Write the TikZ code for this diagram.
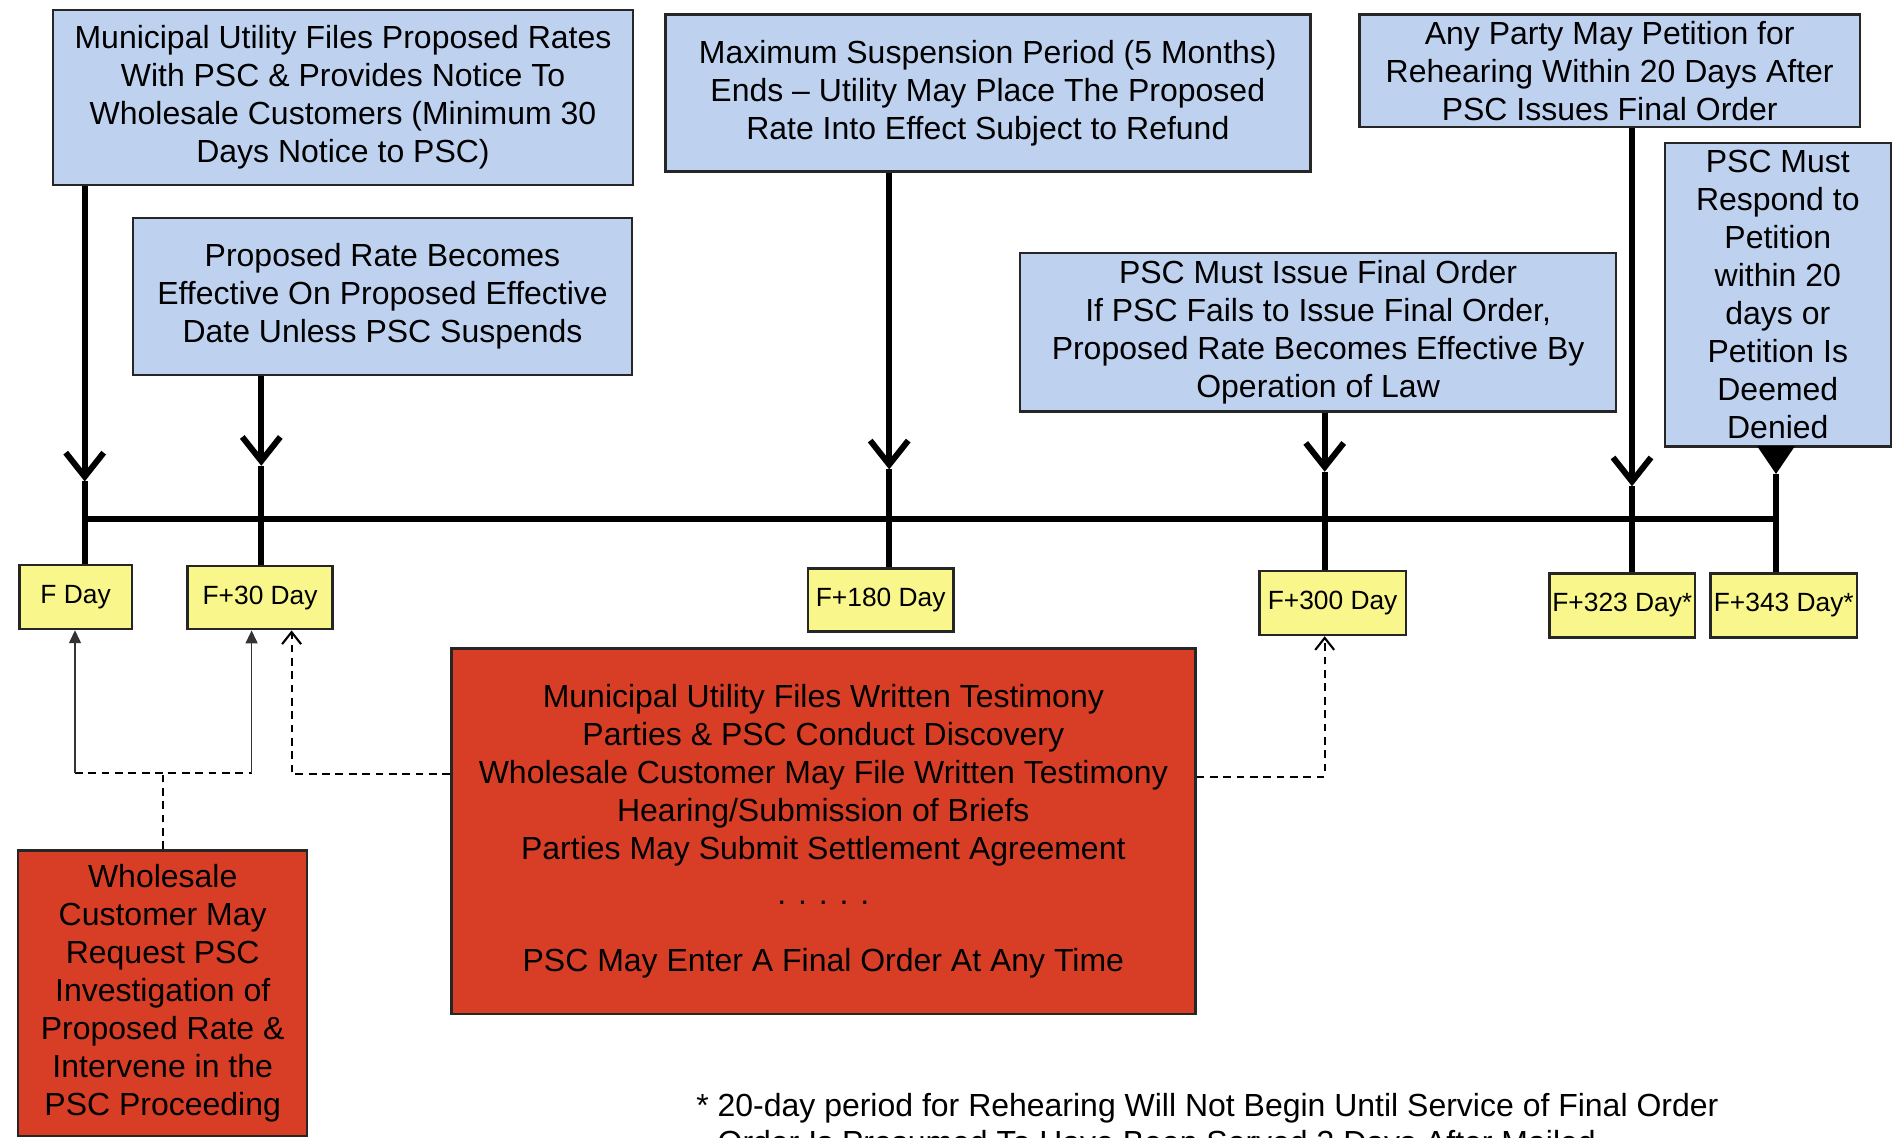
\documentclass[tikz,border=0pt]{standalone}
\usepackage{fontspec}
\setmainfont{Liberation Sans}
\usetikzlibrary{arrows.meta}
\definecolor{boxblue}{RGB}{190,210,240}
\definecolor{dayyellow}{RGB}{249,246,139}
\definecolor{stepred}{RGB}{216,62,38}
\begin{document}
\begin{tikzpicture}[
    every node/.style={font=\fontsize{9.1}{10.8}\selectfont, align=center, inner sep=0pt},
    event/.style={draw=black!85, line width=0.7pt, fill=boxblue},
    daybox/.style={draw=black!85, line width=0.7pt, fill=dayyellow, font=\fontsize{7.5}{9}\selectfont},
    redbox/.style={draw=black!85, line width=0.7pt, fill=stepred},
    tline/.style={line width=1.7pt},
    tarrow/.style={line width=1.7pt, -{Straight Barb[length=2.4mm,width=3.8mm]}},
    link/.style={line width=0.6pt, dash pattern=on 2.2pt off 1.6pt},
    feed/.style={line width=0.4pt, black!80}
  ]
    \useasboundingbox (0,0) rectangle (18.97,11.38);
    \clip (0,0) rectangle (18.97,11.38);

    % Events
    \node [event, minimum width=5.80cm, minimum height=1.75cm] (filing) at (3.43,10.405)
        {Municipal Utility Files Proposed Rates\\With PSC \& Provides Notice To\\Wholesale Customers (Minimum 30\\Days Notice to PSC)};
    \node [event, minimum width=4.99cm, minimum height=1.57cm] (effective) at (3.825,8.416)
        {Proposed Rate Becomes\\Effective On Proposed Effective\\Date Unless PSC Suspends};
    \node [event, minimum width=6.45cm, minimum height=1.57cm] (suspend) at (9.878,10.448)
        {Maximum Suspension Period (5 Months)\\Ends – Utility May Place The Proposed\\Rate Into Effect Subject to Refund};
    \node [event, minimum width=5.96cm, minimum height=1.585cm] (final) at (13.181,8.059)
        {PSC Must Issue Final Order\\If PSC Fails to Issue Final Order,\\Proposed Rate Becomes Effective By\\Operation of Law};
    \node [event, minimum width=5.00cm, minimum height=1.125cm] (rehear) at (16.097,10.672)
        {Any Party May Petition for\\Rehearing Within 20 Days After\\PSC Issues Final Order};
    \node [event, minimum width=2.26cm, minimum height=3.036cm] (respond) at (17.778,8.434)
        {PSC Must\\Respond to\\Petition\\within 20\\days or\\Petition Is\\Deemed\\Denied};

    % Days
    \node [daybox, minimum width=1.125cm, minimum height=0.64cm] (fday) at (0.756,5.41) {F Day};
    \node [daybox, minimum width=1.452cm, minimum height=0.63cm] (d30) at (2.601,5.403) {F+30 Day};
    \node [daybox, minimum width=1.452cm, minimum height=0.63cm] (d180) at (8.807,5.38) {F+180 Day};
    \node [daybox, minimum width=1.464cm, minimum height=0.64cm] (d300) at (13.326,5.35) {F+300 Day};
    \node [daybox, minimum width=1.452cm, minimum height=0.64cm] (d323) at (16.223,5.325) {F+323 Day*};
    \node [daybox, minimum width=1.463cm, minimum height=0.64cm] (d343) at (17.838,5.325) {F+343 Day*};

    % Proceeding
    \node [redbox, minimum width=7.44cm, minimum height=3.653cm] (hearing) at (8.233,3.069)
        {Municipal Utility Files Written Testimony\\Parties \& PSC Conduct Discovery\\Wholesale Customer May File Written Testimony\\Hearing/Submission of Briefs\\Parties May Submit Settlement Agreement\\[2pt]. . . . .\\[8.4pt]PSC May Enter A Final Order At Any Time};
    \node [redbox, minimum width=2.89cm, minimum height=2.855cm] (request) at (1.627,1.448)
        {Wholesale\\Customer May\\Request PSC\\Investigation of\\Proposed Rate \&\\Intervene in the\\PSC Proceeding};

    \node [anchor=base west, align=left] (note) at (6.956,-0.16)
        {* 20-day period for Rehearing Will Not Begin Until Service of Final Order\\\hphantom{* }Order Is Presumed To Have Been Served 3 Days After Mailed};

    % Timeline
    \coordinate (t0) at (0.847,6.19);
    \coordinate (t1) at (2.613,6.19);
    \coordinate (t2) at (8.892,6.19);
    \coordinate (t3) at (13.247,6.19);
    \coordinate (t4) at (16.320,6.19);
    \coordinate (t5) at (17.760,6.19);
    \coordinate (a0) at (0.847,6.565);
    \coordinate (a1) at (2.613,6.722);
    \coordinate (a2) at (8.892,6.686);
    \coordinate (a3) at (13.247,6.662);
    \coordinate (a4) at (16.320,6.517);
    \coordinate (a5) at (17.760,6.638);
    \draw [tline] (t0) -- (t5);

    \foreach \src/\t/\a/\dst in {filing/t0/a0/fday, effective/t1/a1/d30, suspend/t2/a2/d180, final/t3/a3/d300, rehear/t4/a4/d323}{
        \draw [tarrow] (\src.south -| \t) -- (\a);
        \draw [tline] (\a) -- (\dst.north -| \t);
    }
    \draw [line width=1.7pt, -{Triangle[length=2.8mm,width=3.6mm]}] (respond.south -| t5) -- (a5);
    \draw [tline] (a5) -- (d343.north -| t5);

    % Links to the days
    \coordinate (j0) at (0.750,3.65);
    \coordinate (j1) at (2.516,3.65);
    \coordinate (g1) at (2.916,3.637);
    \coordinate (g2) at (13.247,3.613);
    \draw [link] (request.north) -- (request.north |- j0);
    \draw [link] (j0) -- (j1);
    \draw [feed, -{Triangle[length=1.3mm,width=1.2mm]}] (j0) -- (fday.south -| j0);
    \draw [feed, -{Triangle[length=1.3mm,width=1.2mm]}] (j1) -- (d30.south -| j1);
    \draw [link, -{Straight Barb[length=1.2mm,width=1.9mm]}] (g1 -| hearing.west) -- (g1) -- (d30.south -| g1);
    \draw [link, -{Straight Barb[length=1.2mm,width=1.9mm]}] (g2 -| hearing.east) -- (g2) -- (d300.south -| g2);
\end{tikzpicture}
\end{document}
